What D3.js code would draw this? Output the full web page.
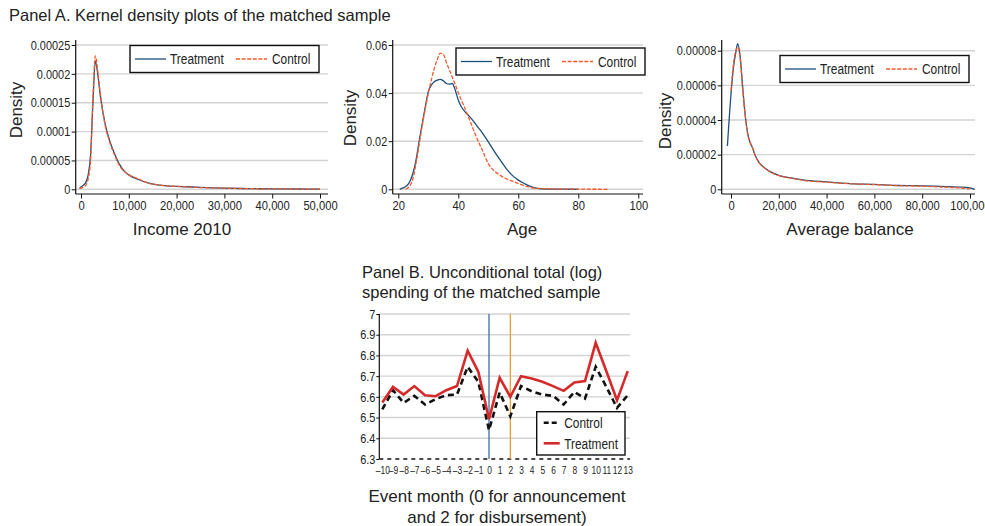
<!DOCTYPE html>
<html>
<head>
<meta charset="utf-8">
<script src="https://cdn.jsdelivr.net/npm/d3@7"></script>
<style>
  body { margin: 0; background: #fff; }
  svg { display: block; font-family: "Liberation Sans", Arial, sans-serif; }
</style>
</head>
<body>
<svg width="985" height="526"></svg>
<script>
// ---- Panel A data ----
const incomeGrid = [-300, 0, 500, 1000, 1500, 2000, 2500, 3000, 3500, 4000, 5000, 6000, 7000, 8000, 9000, 10000, 12000, 14000, 16000, 18000, 20000, 25000, 30000, 35000, 40000, 45000, 50000]
const incomeTreatment = [0.000002, 0.000004, 0.000007, 0.000012, 0.000025, 0.000060, 0.000150, 0.000222, 0.000200, 0.000165, 0.000115, 0.000084, 0.000062, 0.000044, 0.000032, 0.000025, 0.000017, 0.000011, 0.0000075, 0.0000058, 0.000005, 0.0000035, 0.000002, 0.0000012, 0.0000008, 0.0000005, 0.0000003]
const incomeControl = [0.000001, 0.000002, 0.000004, 0.000007, 0.000018, 0.000050, 0.000160, 0.000231, 0.000205, 0.000168, 0.000113, 0.000082, 0.000060, 0.000042, 0.000031, 0.000025, 0.000018, 0.000011, 0.0000078, 0.000006, 0.000005, 0.000003, 0.000002, 0.0000011, 0.0000008, 0.0000005, 0.0000003]
const incomeTicksX = [0, 10000, 20000, 30000, 40000, 50000]
const incomeTicksY = [0, 0.00005, 0.0001, 0.00015, 0.0002, 0.00025]
const incomeLabelsY = ['0', '0.00005', '0.0001', '0.00015', '0.0002', '0.00025']

const ageGrid = [20.5, 21, 22, 22.5, 23, 24, 25, 26, 27, 28, 29, 30, 31, 32, 33, 34, 35, 36, 37, 38, 39, 40, 41, 42, 43, 44, 46, 48, 50, 52, 54, 56, 58, 60, 62, 64, 66, 68, 70, 75, 80, 85, 90]
const ageTreatment = [0, 0.0003, 0.0008, 0.0012, 0.0017, 0.0037, 0.0072, 0.0128, 0.0204, 0.0274, 0.0343, 0.0406, 0.0433, 0.0447, 0.0454, 0.0457, 0.0451, 0.0440, 0.0437, 0.0440, 0.0412, 0.0371, 0.0343, 0.0326, 0.0312, 0.0299, 0.0267, 0.0235, 0.0197, 0.0158, 0.0121, 0.0086, 0.0058, 0.0038, 0.0024, 0.0012, 0.0005, 0.0002, 0.0001, 0.00005, 0, null, null]
const ageControl = [null, null, null, 0, 0.0004, 0.0017, 0.0050, 0.0114, 0.0190, 0.0267, 0.0336, 0.0399, 0.0454, 0.0503, 0.0540, 0.0566, 0.0562, 0.0528, 0.0497, 0.0466, 0.0435, 0.0402, 0.0372, 0.0343, 0.0312, 0.0281, 0.0218, 0.0163, 0.0107, 0.0076, 0.0058, 0.0044, 0.0034, 0.0024, 0.0015, 0.0008, 0.0004, 0.0003, 0.0002, 0.0001, 0.00005, 0.00002, 0]
const ageTicksX = [20, 40, 60, 80, 100]
const ageTicksY = [0, 0.02, 0.04, 0.06]
const ageLabelsY = ['0', '0.02', '0.04', '0.06']

const balanceGrid = [-1500, 0, 1000, 2000, 2800, 3800, 5000, 6000, 7000, 8000, 9000, 10000, 12000, 14000, 17000, 20000, 25000, 30000, 40000, 50000, 60000, 70000, 80000, 90000, 95000, 100000, 102000]
const balanceTreatment = [0.000025, 0.000055, 0.000070, 0.000079, 0.000084, 0.000077, 0.000057, 0.000042, 0.000032, 0.000027, 0.000024, 0.000020, 0.000015, 0.0000125, 0.0000098, 0.000008, 0.0000066, 0.0000055, 0.0000043, 0.0000033, 0.0000028, 0.0000022, 0.000002, 0.0000016, 0.0000013, 0.0000008, 0]
const balanceControl = [null, 0.000057, 0.000072, 0.000080, 0.000082, 0.000076, 0.000056, 0.000042, 0.000032, 0.000027, 0.000024, 0.000020, 0.000015, 0.0000123, 0.0000096, 0.0000079, 0.0000064, 0.0000052, 0.0000041, 0.0000032, 0.0000027, 0.0000021, 0.0000018, 0.0000012, 0.0000009, 0.0000002, null]
const balanceTicksX = [0, 20000, 40000, 60000, 80000, 100000]
const balanceTicksY = [0, 0.00002, 0.00004, 0.00006, 0.00008]
const balanceLabelsY = ['0', '0.00002', '0.00004', '0.00006', '0.00008']

// ---- Panel B data ----
const months = [-10, -9, -8, -7, -6, -5, -4, -3, -2, -1, 0, 1, 2, 3, 4, 5, 6, 7, 8, 9, 10, 11, 12, 13]
const monthLabels = ['\u201310', '\u20139', '\u20138', '\u20137', '\u20136', '\u20135', '\u20134', '\u20133', '\u20132', '\u20131', '0', '1', '2', '3', '4', '5', '6', '7', '8', '9', '10', '11', '12', '13']
const spendControl = [6.539, 6.632, 6.571, 6.605, 6.563, 6.589, 6.608, 6.611, 6.745, 6.673, 6.439, 6.621, 6.506, 6.652, 6.627, 6.611, 6.605, 6.563, 6.624, 6.592, 6.745, 6.648, 6.547, 6.608]
const spendTreatment = [6.573, 6.648, 6.611, 6.652, 6.608, 6.603, 6.632, 6.652, 6.823, 6.721, 6.492, 6.692, 6.600, 6.700, 6.689, 6.673, 6.652, 6.629, 6.669, 6.676, 6.861, 6.724, 6.584, 6.724]
const spendTicksY = [6.3, 6.4, 6.5, 6.6, 6.7, 6.8, 6.9, 7]
const spendLabelsY = ['6.3', '6.4', '6.5', '6.6', '6.7', '6.8', '6.9', '7']
const eventLines = [0, 2]

const NAVY = '#1f4e79'
const ORANGE = '#f4592c'
const RED = '#d42a2a'
const GRID = '#d3d3d3'
const INK = '#222'

const svg = d3.select('svg')

// the original uses a condensed face; squeeze the regular one to match
function condense (sel, factor) {
  sel.each(function () {
    const len = this.getComputedTextLength()
    d3.select(this).attr('textLength', len * factor).attr('lengthAdjust', 'spacingAndGlyphs')
  })
}

svg.append('text')
  .attr('x', 9).attr('y', 21)
  .style('font-size', '16.5px').attr('fill', INK)
  .text('Panel A. Kernel density plots of the matched sample')

function styleTicks (sel, size, factor) {
  sel.select('.domain').remove()
  sel.selectAll('.tick line').attr('stroke', '#111')
  sel.selectAll('.tick text')
    .attr('fill', INK)
    .style('font-family', '"Liberation Sans", Arial, sans-serif')
    .style('font-size', size)
    .call(condense, factor)
}

function legendText (g, x, y, label) {
  g.append('text').attr('x', x).attr('y', y).text(label)
    .style('font-size', '14px').attr('fill', INK)
    .call(condense, 0.85)
}

function densityPanel (o) {
  const x = d3.scaleLinear().domain(o.xDomain).range(o.xRange)
  const y = d3.scaleLinear().domain(o.yDomain).range(o.yRange)
  const g = svg.append('g')

  g.selectAll('.grid').data(o.yTicks).join('line')
    .attr('x1', o.axisX).attr('x2', o.right)
    .attr('y1', d => y(d)).attr('y2', d => y(d))
    .attr('stroke', GRID).attr('stroke-width', 1.4)

  g.append('g')
    .attr('transform', `translate(${o.axisX},0)`)
    .call(d3.axisLeft(y).tickValues(o.yTicks).tickFormat((d, i) => o.yLabels[i]).tickSize(4).tickPadding(1.5))
    .call(s => styleTicks(s, '13px', 0.84))

  g.append('g')
    .attr('transform', `translate(0,${o.axisY})`)
    .call(d3.axisBottom(x).tickValues(o.xTicks).tickFormat(o.xFormat).tickSize(4.5).tickPadding(2.5))
    .call(s => styleTicks(s, '13px', 0.86))

  g.append('line')
    .attr('x1', o.axisX).attr('x2', o.axisX).attr('y1', o.top).attr('y2', o.axisY)
    .attr('stroke', '#111').attr('stroke-width', 1.2)
  g.append('line')
    .attr('x1', o.axisX).attr('x2', o.right).attr('y1', o.axisY).attr('y2', o.axisY)
    .attr('stroke', '#111').attr('stroke-width', 1.2)

  const line = vals => d3.line()
    .defined((d, i) => vals[i] != null)
    .x(d => x(d))
    .y((d, i) => y(vals[i]))
    .curve(d3.curveMonotoneX)(o.grid)

  g.append('path').attr('d', line(o.treatment))
    .attr('fill', 'none').attr('stroke', NAVY).attr('stroke-width', 1.3)
  g.append('path').attr('d', line(o.control))
    .attr('fill', 'none').attr('stroke', ORANGE).attr('stroke-width', 1.3)
    .attr('stroke-dasharray', '4,1.6')

  // legend
  const lg = g.append('g').attr('transform', `translate(${o.legend[0]},${o.legend[1]})`)
  lg.append('rect').attr('width', 189).attr('height', 27)
    .attr('fill', '#fff').attr('stroke', '#111').attr('stroke-width', 1.4)
  lg.append('line').attr('x1', 5).attr('x2', 36).attr('y1', 13.5).attr('y2', 13.5)
    .attr('stroke', NAVY).attr('stroke-width', 1.3)
  legendText(lg, 40, 18.5, 'Treatment')
  lg.append('line').attr('x1', 106).attr('x2', 137).attr('y1', 13.5).attr('y2', 13.5)
    .attr('stroke', ORANGE).attr('stroke-width', 1.3).attr('stroke-dasharray', '4,1.6')
  legendText(lg, 142, 18.5, 'Control')

  g.append('text')
    .attr('x', o.titleX).attr('y', 235)
    .attr('text-anchor', 'middle')
    .style('font-size', '17px').attr('fill', INK)
    .text(o.title)
  g.append('text')
    .attr('transform', `translate(${o.densityX},${o.densityY}) rotate(-90)`)
    .attr('text-anchor', 'middle')
    .style('font-size', '17px').attr('fill', INK)
    .text('Density')
}

densityPanel({
  grid: incomeGrid, treatment: incomeTreatment, control: incomeControl,
  xDomain: [0, 50000], xRange: [81, 320], yDomain: [0, 0.00025], yRange: [189.3, 45],
  xTicks: incomeTicksX, xFormat: d3.format(','), yTicks: incomeTicksY, yLabels: incomeLabelsY,
  axisX: 75.7, axisY: 194, top: 40, right: 328,
  legend: [130, 45.5], title: 'Income 2010', titleX: 182, densityX: 22, densityY: 110
})

densityPanel({
  grid: ageGrid, treatment: ageTreatment, control: ageControl,
  xDomain: [20, 100], xRange: [398.3, 638.3], yDomain: [0, 0.06], yRange: [189.3, 45],
  xTicks: ageTicksX, xFormat: d3.format('d'), yTicks: ageTicksY, yLabels: ageLabelsY,
  axisX: 392.7, axisY: 194, top: 40, right: 643,
  legend: [456, 48], title: 'Age', titleX: 522, densityX: 356, densityY: 118
})

densityPanel({
  grid: balanceGrid, treatment: balanceTreatment, control: balanceControl,
  xDomain: [0, 100000], xRange: [731, 970], yDomain: [0, 0.00008], yRange: [189.3, 50.7],
  xTicks: balanceTicksX, xFormat: d3.format(','), yTicks: balanceTicksY, yLabels: balanceLabelsY,
  axisX: 721.7, axisY: 194, top: 40, right: 975,
  legend: [780, 55.5], title: 'Average balance', titleX: 850, densityX: 671, densityY: 121
})

// ---- Panel B ----
const bx = d3.scaleLinear().domain([-10, 13]).range([382.3, 627.7])
const by = d3.scaleLinear().domain([6.3, 7]).range([459, 314])
const pb = svg.append('g')

pb.append('text').attr('x', 362).attr('y', 278)
  .style('font-size', '16.5px').attr('fill', INK)
  .text('Panel B. Unconditional total (log)')
pb.append('text').attr('x', 362).attr('y', 298)
  .style('font-size', '16.5px').attr('fill', INK)
  .text('spending of the matched sample')

pb.selectAll('.grid').data(spendTicksY.filter(d => d > 6.3)).join('line')
  .attr('x1', 379.3).attr('x2', 630)
  .attr('y1', d => by(d)).attr('y2', d => by(d))
  .attr('stroke', GRID).attr('stroke-width', 1.4)

pb.append('g')
  .attr('transform', 'translate(379.3,0)')
  .call(d3.axisLeft(by).tickValues(spendTicksY).tickFormat((d, i) => spendLabelsY[i]).tickSize(3).tickPadding(1))
  .call(s => styleTicks(s, '13px', 0.84))

pb.append('g')
  .attr('transform', 'translate(0,459)')
  .call(d3.axisBottom(bx).tickValues(months).tickFormat((d, i) => monthLabels[i]).tickSize(0).tickPadding(8))
  .call(s => styleTicks(s, '10.5px', 0.8))

pb.append('line').attr('x1', 379.3).attr('x2', 379.3).attr('y1', 314).attr('y2', 459)
  .attr('stroke', '#111').attr('stroke-width', 1.2)
pb.append('line').attr('x1', 379.3).attr('x2', 630).attr('y1', 459).attr('y2', 459)
  .attr('stroke', '#111').attr('stroke-width', 1.6).attr('stroke-dasharray', '4,4')

pb.selectAll('.event').data(eventLines).join('line')
  .attr('x1', d => bx(d)).attr('x2', d => bx(d)).attr('y1', 314).attr('y2', 459)
  .attr('stroke', (d, i) => i === 0 ? '#3b6ea5' : '#f39a2e').attr('stroke-width', 1.3)

const bLine = vals => d3.line().x(d => bx(d)).y((d, i) => by(vals[i]))(months)
pb.append('path').attr('d', bLine(spendControl))
  .attr('fill', 'none').attr('stroke', '#111').attr('stroke-width', 2.6)
  .attr('stroke-dasharray', '6,4')
pb.append('path').attr('d', bLine(spendTreatment))
  .attr('fill', 'none').attr('stroke', RED).attr('stroke-width', 2.6)

const blg = pb.append('g').attr('transform', 'translate(536.7,411.7)')
blg.append('rect').attr('width', 88.3).attr('height', 43.3)
  .attr('fill', '#fff').attr('stroke', '#111').attr('stroke-width', 1.4)
blg.append('line').attr('x1', 7).attr('x2', 23).attr('y1', 11).attr('y2', 11)
  .attr('stroke', '#111').attr('stroke-width', 2.6).attr('stroke-dasharray', '5,3')
legendText(blg, 27.5, 16, 'Control')
blg.append('line').attr('x1', 7).attr('x2', 23).attr('y1', 31.6).attr('y2', 31.6)
  .attr('stroke', RED).attr('stroke-width', 2.6)
legendText(blg, 27.5, 37, 'Treatment')

pb.append('text').attr('x', 497).attr('y', 502)
  .attr('text-anchor', 'middle').style('font-size', '17px').attr('fill', INK)
  .text('Event month (0 for announcement')
pb.append('text').attr('x', 497).attr('y', 523)
  .attr('text-anchor', 'middle').style('font-size', '17px').attr('fill', INK)
  .text('and 2 for disbursement)')
</script>
</body>
</html>
